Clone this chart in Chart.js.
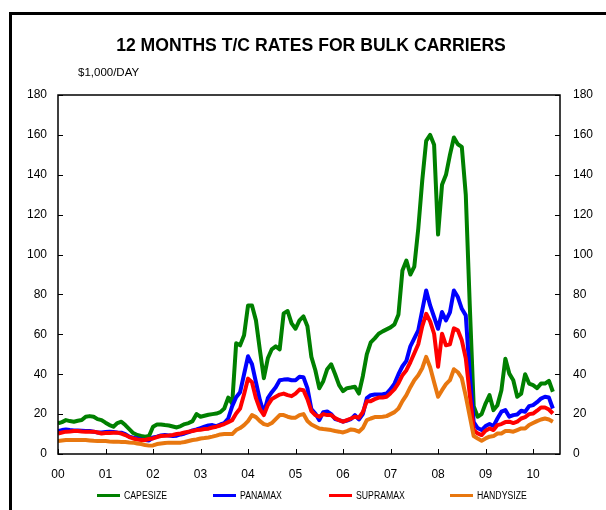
<!DOCTYPE html>
<html>
<head>
<meta charset="utf-8">
<script src="https://cdn.jsdelivr.net/npm/chart.js@4.4.1/dist/chart.umd.min.js"></script>
<style>
  html, body { margin:0; padding:0; background:#fff; overflow:hidden; }
  #wrap { position:relative; width:606px; height:510px; overflow:hidden; background:#fff; }
  #frame { position:absolute; left:9px; top:12px; width:800px; height:700px; border:3px solid #000; box-sizing:border-box; }
  #c { position:absolute; left:0; top:0; }
  .title { position:absolute; left:8px; top:35px; width:606px; text-align:center; font:bold 17.6px "Liberation Sans", Arial, sans-serif; color:#000; line-height:20px; }
  .sub { position:absolute; left:78px; top:65px; font:11.5px "Liberation Sans", Arial, sans-serif; color:#000; line-height:14px; }
  .leg { position:absolute; top:489px; height:14px; font:10px "Liberation Sans", Arial, sans-serif; color:#000; line-height:14px; white-space:nowrap; }
  .leg i { display:inline-block; width:23px; height:3px; vertical-align:middle; margin-right:4px; position:relative; top:-1px; }
  .leg span { display:inline-block; transform:scaleX(0.87); transform-origin:0 50%; }
</style>
</head>
<body>
<div id="wrap">
  <div id="frame"></div>
  <canvas id="c" width="606" height="510"></canvas>
  <div class="title">12 MONTHS T/C RATES FOR BULK CARRIERS</div>
  <div class="sub">$1,000/DAY</div>
  <div id="legend"></div>
</div>
<script>
// Year tick labels (one every 12 months, starting Jan 2000)
const YEAR_LABELS = ["00","01","02","03","04","05","06","07","08","09","10"];
const SERIES_NAMES = ["CAPESIZE","PANAMAX","SUPRAMAX","HANDYSIZE"];
const SERIES_COLORS = ["#008000","#0000FF","#FF0000","#E8770F"];

// Monthly 12-month T/C rates, $1,000/day, Jan 2000 .. Jun 2010
const CAPESIZE = [
  15.3,16,17,16.5,16.2,16.7,17,18.7,19,18.7,
  17.5,17,15.7,14.5,13.7,15.5,16.2,14.5,12.5,10.5,
  9.5,9,8.7,9,13.7,14.8,14.8,14.5,14.3,13.8,
  13.3,14,15,15.5,16.5,20,18.7,19.2,19.7,20,
  20.3,21,22.8,28.3,25.3,55.5,54.5,59.5,74.5,74.5,
  67,52,38,48,52.5,54,52.5,70.5,71.7,65.5,
  62.8,67,69,64,48.7,42,33,36.5,42.5,45,
  40,34.5,31.5,33,33.3,33.7,30.3,39,50,56,
  58,60.3,61.5,62.5,63.5,65,70,92,97,90,
  94,113,137,157,160,155,110,135,140,150,
  158.7,155.3,154,130,75,24,18.7,20,25.3,29.5,
  22,24.5,32,47.8,40.3,37,28.7,30.3,40,35.3,
  34.5,33,35.3,35.3,36.7,31.2
];
const PANAMAX = [
  11.5,12,12.3,12,11.8,11.8,11.7,11.5,11.5,11.2,
  10.8,10.8,11,11.2,11,10.8,10.7,10,8.7,8.2,
  7.8,7.3,7,6.8,8.3,8.7,9.3,9.5,9.3,9,
  9.2,9.8,10.3,11,11.8,12.3,13,13.7,14.3,14.5,
  14,14.8,15.5,17.8,24,28.5,31,40,49,45,
  36,27,20.5,28,31,33.5,37,37.3,37.5,37,
  37,38.7,38.5,33,22.5,20.3,17,21,21.3,20,
  17.5,17,16.2,16.8,17.5,19.5,17.3,20,28,29.5,
  29.8,29.8,30,30.3,32.5,35.3,40,44,46.7,54,
  58,62,72,82,74.5,68.7,62.8,71.2,67,71,
  82,78.7,72.8,69.5,40,16,13,12,14,15,
  14,17.8,21.2,22,18.7,19.5,19.8,21.7,21.2,24,
  24.5,26,27.8,28.7,28.3,22.8
];
const SUPRAMAX = [
  10.3,10.8,11.2,11.3,11.5,11.5,11.3,11.2,11.2,11.2,
  10.8,10.3,10.5,10.5,10.7,10.7,10.2,9.5,8.5,7.8,
  7.3,7,7,7.5,7.8,8.5,9,9.2,9.3,9.5,
  10,10.3,10.8,11.2,11.5,12,12.2,12.5,12.7,13.3,
  13.7,14.3,15,16,17,20.3,22.8,30,37.8,36,
  28,22.5,19.5,24.5,27.5,28.7,29.8,30.3,29.5,29,
  30.3,32.3,32,27.5,21.5,19.5,18.7,20,19.5,19.5,
  18,17,16.2,17,17.8,18.7,18.2,21,26.5,26.5,
  27.5,28.3,28.3,28.7,30.5,32.5,35.5,39.5,42,46,
  50.5,55,64,70.3,66.5,60.3,43.7,60.3,54.5,55,
  63,62,57,48,30,12,10.3,9.5,11.7,12.8,
  12,14.5,15,16,16.2,15.5,16.2,17.8,18.5,20,
  20.3,21.7,23.3,23.3,22.3,20.3
];
const HANDYSIZE = [
  6.5,6.8,7,7,7,7,7,7,6.8,6.6,
  6.5,6.5,6.5,6.3,6.2,6.2,6,6,5.8,5.7,
  5.3,5,4.5,4.2,4.3,5,5.3,5.5,5.7,5.7,
  5.7,5.7,6,6.5,7,7.3,7.8,8,8.3,8.7,
  9.2,9.8,10,10,10,12,13,14.5,16.5,19.5,
  18.5,16.5,15,14.5,15.5,17.5,19.5,19.5,18.7,18.2,
  18.2,19.5,20,16.5,14.8,13.8,12.8,12.5,12.3,12,
  11.5,11.2,10.8,11.5,12.3,12,11.2,13,17,17.8,
  18.5,18.5,18.7,19,20,21,22.8,26.5,29.5,33.5,
  37,39.5,43,48.7,43.5,36,28.7,32,35,37,
  42.5,41,38,29,19,9,7.8,6.7,7.8,8.7,
  9,10.3,10.3,11.5,11.5,11.2,12,12.8,12.8,14.5,
  15.5,16.5,17.3,17.8,17.3,16.2
];
const SERIES = [CAPESIZE, PANAMAX, SUPRAMAX, HANDYSIZE];

// HTML legend
const LEG_X = [97, 213, 329, 450];
const legend = document.getElementById('legend');
SERIES_NAMES.forEach((n, i) => {
  const d = document.createElement('div');
  d.className = 'leg';
  d.style.left = LEG_X[i] + 'px';
  d.innerHTML = '<i style="background:' + SERIES_COLORS[i] + '"></i><span>' + n + '</span>';
  legend.appendChild(d);
});

const datasets = SERIES.map((arr, i) => ({
  label: SERIES_NAMES[i],
  data: arr.map((v, m) => ({x: m, y: v})),
  borderColor: SERIES_COLORS[i],
  backgroundColor: SERIES_COLORS[i],
  borderWidth: 4,
  pointRadius: 0,
  tension: 0,
  fill: false,
  borderJoinStyle: 'round',
  order: 3 - i
}));

const framePlugin = {
  id: 'framePlugin',
  afterDatasetsDraw(chart) {
    const {ctx, chartArea: a, scales} = chart;
    ctx.save();
    ctx.strokeStyle = '#000';
    ctx.lineWidth = 1.5;
    ctx.strokeRect(a.left, a.top, a.right - a.left, a.bottom - a.top);
    ctx.lineWidth = 1;
    ctx.beginPath();
    scales.y.ticks.forEach(t => {
      const py = Math.round(scales.y.getPixelForValue(t.value)) + 0.5;
      ctx.moveTo(a.left, py); ctx.lineTo(a.left + 5, py);
      ctx.moveTo(a.right, py); ctx.lineTo(a.right - 5, py);
    });
    scales.x.ticks.forEach(t => {
      const px = Math.round(scales.x.getPixelForValue(t.value)) + 0.5;
      ctx.moveTo(px, a.bottom); ctx.lineTo(px, a.bottom - 5);
    });
    ctx.stroke();
    ctx.restore();
  }
};

const tickFont = {family: '"Liberation Sans", Arial, sans-serif', size: 12};

new Chart(document.getElementById('c'), {
  type: 'line',
  data: { datasets },
  options: {
    responsive: false,
    animation: false,
    events: [],
    layout: { padding: { top: 95, bottom: 0, left: 0, right: 0 } },
    plugins: { legend: { display: false }, title: { display: false }, tooltip: { enabled: false } },
    scales: {
      x: {
        type: 'linear', min: 0, max: 126.8,
        grid: { display: false, drawTicks: false }, border: { display: false },
        ticks: { stepSize: 12, includeBounds: false, autoSkip: false, color: '#000', font: tickFont, padding: 13, maxRotation: 0,
                 callback: (v) => YEAR_LABELS[Math.round(v / 12)] ?? '' },
        afterBuildTicks: (s) => { s.ticks = s.ticks.filter(t => t.value % 12 === 0 && t.value / 12 < YEAR_LABELS.length); },
        afterFit: (s) => { s.height = 56; }
      },
      y: {
        position: 'left', min: 0, max: 180,
        grid: { display: false, drawTicks: false }, border: { display: false },
        ticks: { stepSize: 20, color: '#000', font: tickFont, padding: 11 },
        afterFit: (s) => { s.width = 58; }
      },
      y2: {
        position: 'right', min: 0, max: 180,
        grid: { display: false, drawTicks: false }, border: { display: false },
        ticks: { stepSize: 20, color: '#000', font: tickFont, padding: 13 },
        afterFit: (s) => { s.width = 46; }
      }
    }
  },
  plugins: [framePlugin]
});
</script>
</body>
</html>
